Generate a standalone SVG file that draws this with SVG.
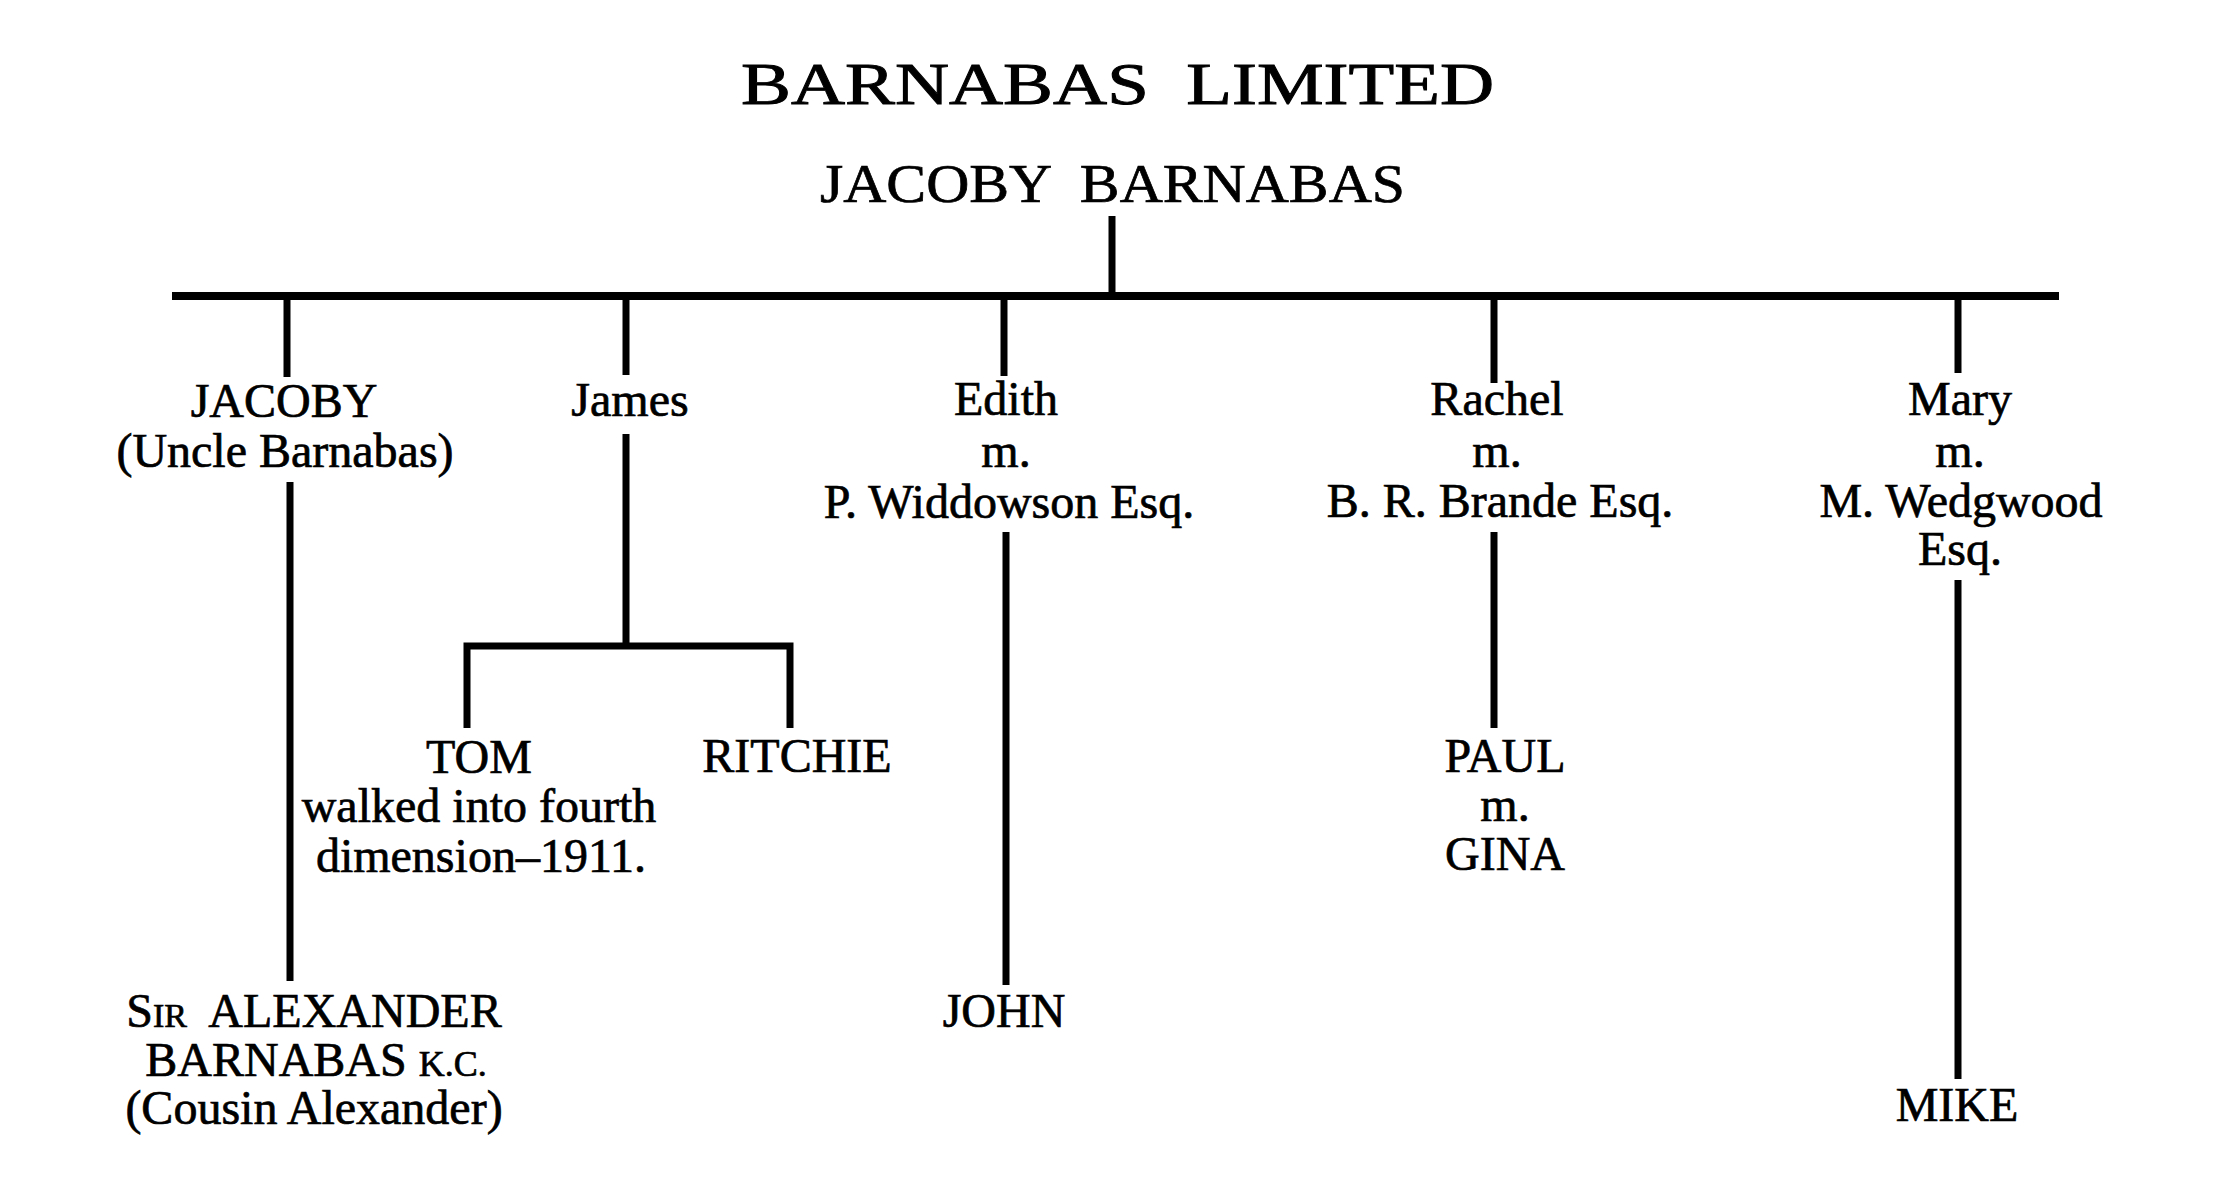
<svg xmlns="http://www.w3.org/2000/svg" width="2226" height="1198" viewBox="0 0 2226 1198">
<style>
  text { font-family: "Liberation Serif", "Times New Roman", serif; fill: #000; stroke: #000; stroke-width: 0.7px; }
  .n { font-size: 48px; text-anchor: middle; }
  .t { font-size: 59px; stroke-width: 0.9px; }
  .h { font-size: 55px; }
  .sc { font-variant: small-caps; }
  .ln { stroke: #000; stroke-width: 7; fill: none; stroke-linecap: butt; }
  .main { stroke: #000; stroke-width: 8; fill: none; }
</style>
<rect width="2226" height="1198" fill="#fff"/>

<g id="title">
  <text class="t" x="741" y="104" textLength="753" lengthAdjust="spacingAndGlyphs" xml:space="preserve">BARNABAS  LIMITED</text>
</g>
<g id="jacoby-barnabas">
  <text class="h" x="820" y="202" textLength="585" lengthAdjust="spacingAndGlyphs" xml:space="preserve">JACOBY  BARNABAS</text>
</g>

<g id="connectors">
  <line class="ln" x1="1112" y1="216" x2="1112" y2="296"/>
  <line class="main" x1="172" y1="296" x2="2059" y2="296"/>
  <line class="ln" x1="287" y1="296" x2="287" y2="377"/>
  <line class="ln" x1="626" y1="296" x2="626" y2="375"/>
  <line class="ln" x1="1004" y1="296" x2="1004" y2="376"/>
  <line class="ln" x1="1494" y1="296" x2="1494" y2="383"/>
  <line class="ln" x1="1958" y1="296" x2="1958" y2="373"/>
  <line class="ln" x1="290" y1="482" x2="290" y2="981"/>
  <line class="ln" x1="626" y1="434" x2="626" y2="646"/>
  <polyline class="ln" points="467,728 467,646 790,646 790,728"/>
  <line class="ln" x1="1006" y1="532" x2="1006" y2="985"/>
  <line class="ln" x1="1494" y1="532" x2="1494" y2="728"/>
  <line class="ln" x1="1958" y1="580" x2="1958" y2="1079"/>
</g>

<g id="jacoby">
  <text class="n" x="284" y="417">JACOBY</text>
  <text class="n" x="285" y="467">(Uncle Barnabas)</text>
</g>
<g id="james">
  <text class="n" x="630" y="416">James</text>
</g>
<g id="edith">
  <text class="n" x="1006" y="415">Edith</text>
  <text class="n" x="1006" y="467">m.</text>
  <text class="n" x="1009" y="518">P. Widdowson Esq.</text>
</g>
<g id="rachel">
  <text class="n" x="1497" y="415">Rachel</text>
  <text class="n" x="1497" y="467">m.</text>
  <text class="n" x="1500" y="517">B. R. Brande Esq.</text>
</g>
<g id="mary">
  <text class="n" x="1960" y="415">Mary</text>
  <text class="n" x="1960" y="467">m.</text>
  <text class="n" x="1961" y="517">M. Wedgwood</text>
  <text class="n" x="1960" y="565">Esq.</text>
</g>
<g id="tom">
  <text class="n" x="479" y="773">TOM</text>
  <text class="n" x="479" y="822">walked into fourth</text>
  <text class="n" x="481" y="872">dimension–1911.</text>
</g>
<g id="ritchie">
  <text class="n" x="797" y="772">RITCHIE</text>
</g>
<g id="alexander">
  <text class="n" x="314" y="1027" xml:space="preserve"><tspan class="sc">Sir</tspan>  ALEXANDER</text>
  <text class="n" x="316" y="1076">BARNABAS <tspan font-size="36">K.C.</tspan></text>
  <text class="n" x="314" y="1124">(Cousin Alexander)</text>
</g>
<g id="john">
  <text class="n" x="1004" y="1027">JOHN</text>
</g>
<g id="paul">
  <text class="n" x="1505" y="772">PAUL</text>
  <text class="n" x="1505" y="821">m.</text>
  <text class="n" x="1505" y="870">GINA</text>
</g>
<g id="mike">
  <text class="n" x="1957" y="1121">MIKE</text>
</g>
</svg>
